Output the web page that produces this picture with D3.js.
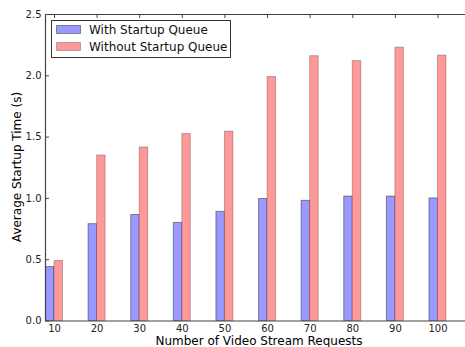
<!DOCTYPE html>
<html><head><meta charset="utf-8">
<script src="https://cdn.jsdelivr.net/npm/d3@7"></script>
<style>body{margin:0;background:#fff}svg{display:block}text{font-family:"DejaVu Sans",sans-serif}</style>
</head><body><svg id="c" width="465" height="347"></svg>
<script>
const categories = [10,20,30,40,50,60,70,80,90,100];
const withQueue = [0.44,0.79,0.865,0.80,0.89,0.995,0.98,1.015,1.015,1.00];
const withoutQueue = [0.49,1.35,1.415,1.525,1.545,1.99,2.16,2.12,2.23,2.165];
const yTicks = [0,0.5,1.0,1.5,2.0,2.5];
const seriesNames = ["With Startup Queue","Without Startup Queue"];

const svg = d3.select("#c");
const L=45, R=466, T=14, B=320.5;
const x = d3.scaleLinear().domain([7.89,106.69]).range([L,R]);
const y = d3.scaleLinear().domain([0,2.5]).range([B,T]);
const bw = 2;

const g = svg.append("g");
g.selectAll("rect.b").data(categories).enter().append("rect")
  .attr("x",(d)=>x(d-bw)).attr("width",(d)=>x(d)-x(d-bw))
  .attr("y",(d,i)=>y(withQueue[i])).attr("height",(d,i)=>B-y(withQueue[i]))
  .attr("fill","#9999ff").attr("stroke","rgba(0,0,0,0.4)").attr("stroke-width",1);
g.selectAll("rect.r").data(categories).enter().append("rect")
  .attr("x",(d)=>x(d)).attr("width",(d)=>x(d+bw)-x(d))
  .attr("y",(d,i)=>y(withoutQueue[i])).attr("height",(d,i)=>B-y(withoutQueue[i]))
  .attr("fill","#ff9999").attr("stroke","rgba(0,0,0,0.25)").attr("stroke-width",1);

const xb = svg.append("g").attr("transform",`translate(0,${B})`)
  .call(d3.axisBottom(x).tickValues(categories).tickSizeInner(-4).tickSizeOuter(0).tickPadding(4.5));
const xt = svg.append("g").attr("transform",`translate(0,${T})`)
  .call(d3.axisTop(x).tickValues(categories).tickSizeInner(-4).tickSizeOuter(0).tickFormat(""));
const yl = svg.append("g").attr("transform",`translate(${L},0)`)
  .call(d3.axisLeft(y).tickValues(yTicks).tickFormat(d3.format(".1f")).tickSizeInner(-4).tickSizeOuter(0).tickPadding(3.5));
[xb,xt,yl].forEach(a=>{
  a.select(".domain").attr("stroke","#444").attr("stroke-width",1.2);
  a.selectAll(".tick line").attr("stroke","#444");
  a.selectAll("text").attr("font-size","10px").attr("fill","#222").attr("font-family","DejaVu Sans");
});
xb.selectAll(".tick line").remove();

svg.append("text").attr("x",259).attr("y",345).attr("text-anchor","middle")
  .attr("font-size","12px").attr("fill","#000").text("Number of Video Stream Requests");
svg.append("text").attr("transform","translate(21,167) rotate(-90)").attr("text-anchor","middle")
  .attr("font-size","12px").attr("fill","#000").text("Average Startup Time (s)");

const lg = svg.append("g");
lg.append("rect").attr("x",51.5).attr("y",20.5).attr("width",179).attr("height",37)
  .attr("fill","#fff").attr("stroke","#333").attr("stroke-width",1);
const cols = ["#9999ff","#ff9999"];
seriesNames.forEach((n,i)=>{
  lg.append("rect").attr("x",56.5).attr("y",25.5+i*17).attr("width",24).attr("height",8)
    .attr("fill",cols[i]).attr("stroke",i?"rgba(0,0,0,0.25)":"rgba(0,0,0,0.4)");
  lg.append("text").attr("x",89).attr("y",34+i*17).attr("font-size","12px").attr("fill","#111").text(n);
});
</script></body></html>
